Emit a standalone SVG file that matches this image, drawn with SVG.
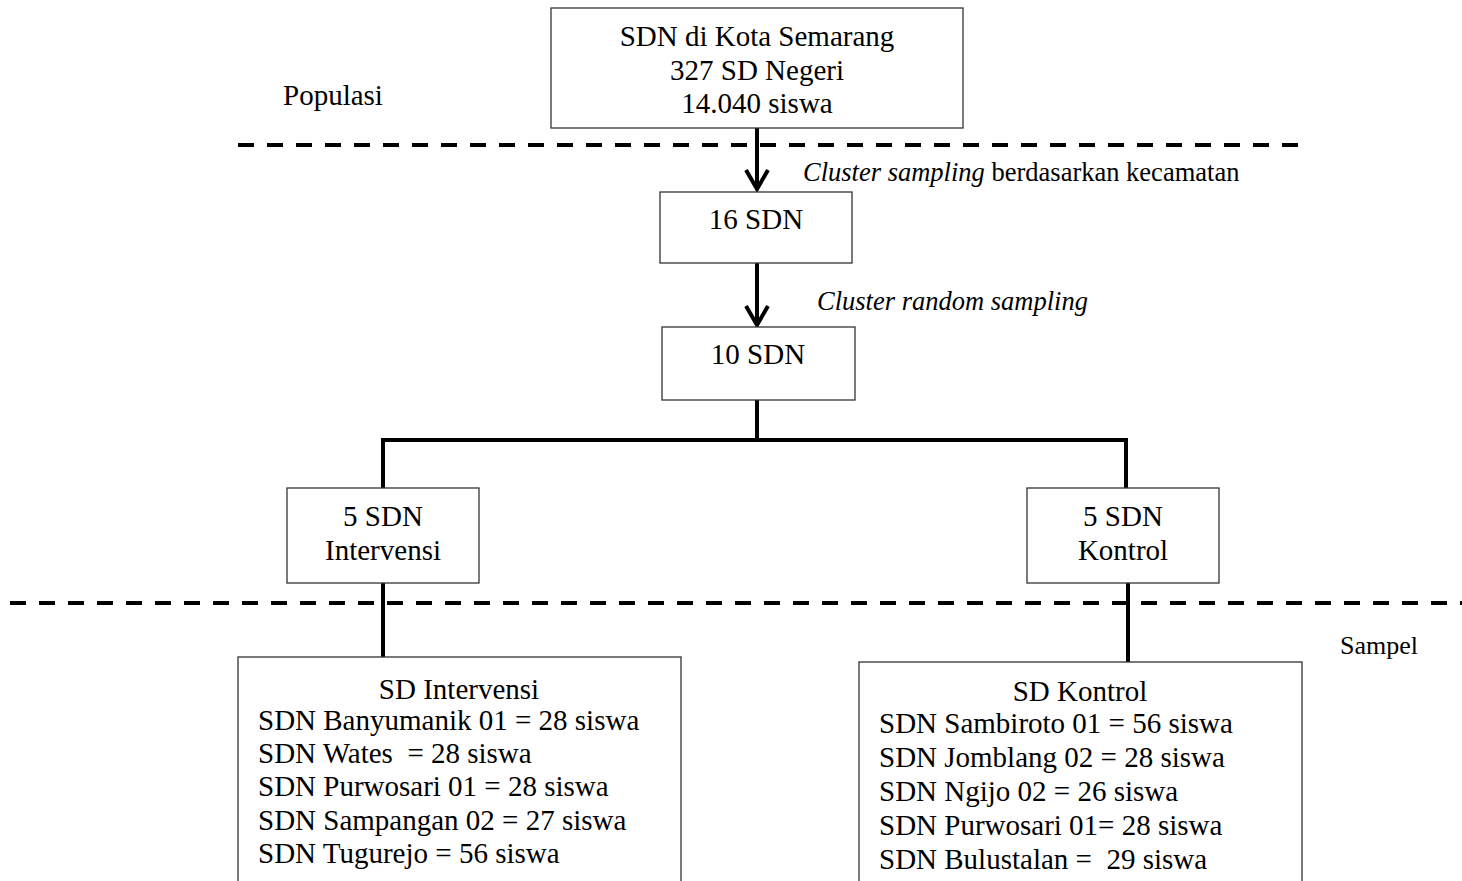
<svg xmlns="http://www.w3.org/2000/svg" width="1462" height="881" viewBox="0 0 1462 881">
  <style>
    text { font-family: "Liberation Serif", "Times New Roman", serif; font-size: 29px; fill: #000; }
    .c { text-anchor: middle; }
    .it { font-style: italic; }
    .lbl { font-size: 26.5px; }
    .box { fill: #fff; stroke: #333; stroke-width: 1.3; }
    .link { fill: none; stroke: #000; stroke-width: 4; stroke-linecap: butt; }
    .head { fill: none; stroke: #000; stroke-width: 4; stroke-linejoin: miter; }
    .dash { stroke: #000; stroke-width: 4; stroke-dasharray: 16 13; }
  </style>

  <!-- section separators -->
  <g id="separators">
    <line class="dash" x1="238" y1="145" x2="1302" y2="145"/>
    <line class="dash" x1="10" y1="603" x2="1462" y2="603"/>
  </g>

  <!-- section labels -->
  <text id="label-populasi" x="283" y="105">Populasi</text>
  <text id="label-sampel" x="1340" y="654" style="font-size:26px">Sampel</text>

  <!-- connectors -->
  <g id="connectors">
    <line class="link" x1="757" y1="128" x2="757" y2="188"/>
    <polyline class="head" points="746,170 757,189 768,170"/>
    <line class="link" x1="757" y1="263" x2="757" y2="324"/>
    <polyline class="head" points="746,306 757,325 768,306"/>
    <polyline class="link" points="757,400 757,440"/>
    <polyline class="link" points="383,488 383,440 1126,440 1126,488"/>
    <line class="link" x1="383" y1="583" x2="383" y2="657"/>
    <line class="link" x1="1128" y1="583" x2="1128" y2="662"/>
    <text class="lbl" x="803" y="181"><tspan class="it">Cluster sampling</tspan> berdasarkan kecamatan</text>
    <text class="it lbl" x="817" y="310">Cluster random sampling</text>
  </g>

  <g id="populasi">
    <rect class="box" x="551" y="8" width="412" height="120"/>
    <text class="c" x="757" y="46">SDN di Kota Semarang</text>
    <text class="c" x="757" y="80">327 SD Negeri</text>
    <text class="c" x="757" y="113">14.040 siswa</text>
  </g>

  <g id="sdn16">
    <rect class="box" x="660" y="192" width="192" height="71"/>
    <text class="c" x="756" y="229">16 SDN</text>
  </g>

  <g id="sdn10">
    <rect class="box" x="662" y="327" width="193" height="73"/>
    <text class="c" x="758" y="364">10 SDN</text>
  </g>

  <g id="intervensi">
    <rect class="box" x="287" y="488" width="192" height="95"/>
    <text class="c" x="383" y="526">5 SDN</text>
    <text class="c" x="383" y="560">Intervensi</text>
  </g>

  <g id="kontrol">
    <rect class="box" x="1027" y="488" width="192" height="95"/>
    <text class="c" x="1123" y="526">5 SDN</text>
    <text class="c" x="1123" y="560">Kontrol</text>
  </g>

  <g id="sd-intervensi">
    <rect class="box" x="238" y="657" width="443" height="260"/>
    <text class="c" x="459" y="699">SD Intervensi</text>
    <text x="258" y="730">SDN Banyumanik 01 = 28 siswa</text>
    <text x="258" y="763" xml:space="preserve">SDN Wates  = 28 siswa</text>
    <text x="258" y="796">SDN Purwosari 01 = 28 siswa</text>
    <text x="258" y="830">SDN Sampangan 02 = 27 siswa</text>
    <text x="258" y="863">SDN Tugurejo = 56 siswa</text>
  </g>

  <g id="sd-kontrol">
    <rect class="box" x="859" y="662" width="443" height="260"/>
    <text class="c" x="1080" y="701">SD Kontrol</text>
    <text x="879" y="733">SDN Sambiroto 01 = 56 siswa</text>
    <text x="879" y="767">SDN Jomblang 02 = 28 siswa</text>
    <text x="879" y="801">SDN Ngijo 02 = 26 siswa</text>
    <text x="879" y="835">SDN Purwosari 01= 28 siswa</text>
    <text x="879" y="869" xml:space="preserve">SDN Bulustalan =  29 siswa</text>
  </g>
</svg>
